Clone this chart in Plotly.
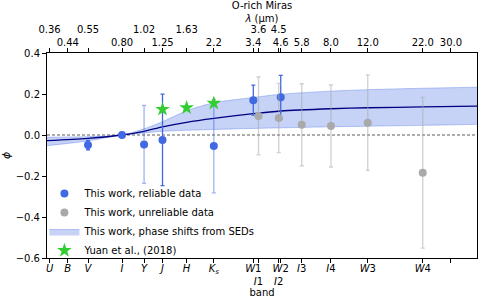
import numpy as np
import plotly.graph_objects as go

# ---- data ----
tick_wl = [0.36, 0.44, 0.55, 0.80, 1.02, 1.25, 1.63, 2.2, 3.4, 3.6, 4.5, 4.6, 5.8, 8.0, 12.0, 22.0, 30.0]
top_labels = ["0.36<br>&nbsp;", "0.44", "0.55<br>&nbsp;", "0.80", "1.02<br>&nbsp;", "1.25",
              "1.63<br>&nbsp;", "2.2", "3.4", "3.6<br>&nbsp;", "4.5<br>&nbsp;", "4.6", "5.8",
              "8.0", "12.0", "22.0", "30.0"]
band_labels = ["<i>U</i>", "<i>B</i>", "<i>V</i>", "<i>I</i>", "<i>Y</i>", "<i>J</i>", "<i>H</i>",
               "<i>K<sub>s</sub></i>", "<i>W</i>1", "&nbsp;<br><i>I</i>1", "&nbsp;<br><i>I</i>2",
               "<i>W</i>2", "<i>I</i>3", "<i>I</i>4", "<i>W</i>3", "<i>W</i>4", ""]

# reliable (solid error bars)
rel_wl = [0.55, 0.80, 1.25, 3.4, 4.6]
rel_phi = [-0.049, 0.0, -0.024, 0.170, 0.184]
rel_err = [0.023, 0.004, 0.223, 0.073, 0.107]
# reliable (faint error bars)
rel2_wl = [1.02, 2.2]
rel2_phi = [-0.046, -0.054]
rel2_err = [0.19, 0.228]
# unreliable
unr_wl = [3.6, 4.5, 5.8, 8.0, 12.0, 22.0]
unr_phi = [0.093, 0.083, 0.050, 0.044, 0.060, -0.184]
unr_err = [0.19, 0.169, 0.20, 0.20, 0.233, 0.368]
# Yuan et al. (2018)
yuan_wl = [1.25, 1.63, 2.2]
yuan_phi = [0.125, 0.133, 0.155]
# SED phase shift curve and band
sed_wl = [0.35, 0.55, 0.80, 1.02, 1.25, 1.63, 2.2, 3.4, 4.6, 8.0, 12.0, 22.0, 40.0]
sed_mean = [-0.027, -0.016, 0.0, 0.018, 0.040, 0.062, 0.081, 0.104, 0.117, 0.128, 0.133, 0.137, 0.141]
sed_up = [-0.011, -0.008, 0.0, 0.030, 0.065, 0.118, 0.157, 0.183, 0.199, 0.214, 0.221, 0.228, 0.233]
sed_lo = [-0.052, -0.029, 0.0, 0.010, 0.018, 0.023, 0.027, 0.032, 0.035, 0.040, 0.043, 0.047, 0.052]

BLUE = "royalblue"
FONT = "DejaVu Sans"

fig = go.Figure()

# band
fig.add_trace(go.Scatter(x=sed_wl, y=sed_lo, mode="lines",
                         line=dict(color="rgba(65,105,225,0.35)", width=1, shape="spline", smoothing=0.8),
                         showlegend=False, hoverinfo="skip"))
fig.add_trace(go.Scatter(x=sed_wl, y=sed_up, mode="lines", fill="tonexty",
                         fillcolor="rgba(65,105,225,0.3)",
                         line=dict(color="rgba(65,105,225,0.35)", width=1, shape="spline", smoothing=0.8),
                         name="This work, phase shifts from SEDs", legendrank=3))
fig.add_trace(go.Scatter(x=sed_wl, y=sed_mean, mode="lines",
                         line=dict(color="navy", width=1.3, shape="spline", smoothing=0.8),
                         showlegend=False))

# reliable
fig.add_trace(go.Scatter(x=rel2_wl, y=rel2_phi, mode="markers",
                         marker=dict(color=BLUE, size=8),
                         error_y=dict(type="data", array=rel2_err, color="rgba(65,105,225,0.5)", thickness=1.3, width=2),
                         showlegend=False))
fig.add_trace(go.Scatter(x=rel_wl, y=rel_phi, mode="markers",
                         marker=dict(color=BLUE, size=8),
                         error_y=dict(type="data", array=rel_err, color=BLUE, thickness=1.3, width=2),
                         name="This work, reliable data", legendrank=1))
# unreliable
fig.add_trace(go.Scatter(x=unr_wl, y=unr_phi, mode="markers",
                         marker=dict(color="darkgrey", size=8),
                         error_y=dict(type="data", array=unr_err, color="rgba(169,169,169,0.55)", thickness=1.3, width=2),
                         name="This work, unreliable data", legendrank=2))
# Yuan
fig.add_trace(go.Scatter(x=yuan_wl, y=yuan_phi, mode="markers",
                         marker=dict(color="limegreen", size=11, symbol="star"),
                         name="Yuan et al., (2018)", legendrank=4))

# top axis dummy trace
fig.add_trace(go.Scatter(x=tick_wl, y=[0] * len(tick_wl), xaxis="x2", mode="markers",
                         marker=dict(opacity=0), showlegend=False, hoverinfo="skip"))

fig.add_hline(y=0, line=dict(color="#333333", width=0.8, dash="3px,2px"), layer="below")

xr = [np.log10(0.35), np.log10(40)]
axis_common = dict(type="log", range=xr, showgrid=False, zeroline=False,
                   showline=True, linecolor="black", linewidth=1, automargin=False,
                   ticks="outside", ticklen=4, tickcolor="black", tickangle=0,
                   tickfont=dict(family=FONT, size=10, color="black"))

fig.update_layout(
    width=480, height=300,
    margin=dict(l=47, r=3, t=53, b=42),
    plot_bgcolor="white", paper_bgcolor="white",
    font=dict(family=FONT, size=10, color="black"),
    xaxis=dict(**axis_common, tickmode="array", tickvals=tick_wl, ticktext=band_labels,
               ticklabelstandoff=-3,
               title=dict(text="band", standoff=0, font=dict(size=10))),
    xaxis2=dict(**axis_common, overlaying="x", side="top", anchor="y", tickmode="array",
                tickvals=tick_wl, ticktext=top_labels, ticklabelstandoff=-2,
                title=dict(text="O-rich Miras<br><i>λ</i> (μm)", standoff=0, font=dict(size=10))),
    yaxis=dict(range=[-0.6, 0.4], tickvals=[-0.6, -0.4, -0.2, 0.0, 0.2, 0.4],
               ticktext=["−0.6", "−0.4", "−0.2", "0.0", "0.2", "0.4"], automargin=False,
               showgrid=False, zeroline=False, showline=True, linecolor="black", linewidth=1,
               mirror=True, ticks="outside", ticklen=4, tickcolor="black",
               title=dict(text="<i>ϕ</i>", standoff=10, font=dict(size=11))),
    legend=dict(x=-0.006, y=-0.034, xanchor="left", yanchor="bottom", bgcolor="rgba(0,0,0,0)",
                font=dict(family=FONT, size=10), tracegroupgap=0, itemwidth=30, traceorder="normal"),
    showlegend=True,
)

fig.write_html("out.html", config={"displayModeBar": False},
               post_script="document.body.style.margin='0px';document.body.style.overflow='hidden';")
